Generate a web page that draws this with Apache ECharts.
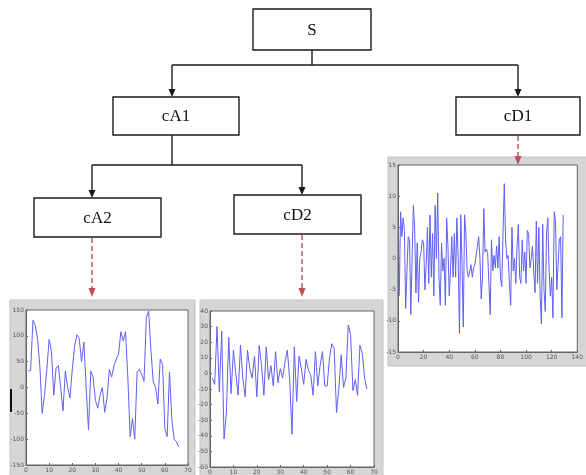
<!DOCTYPE html>
<html><head><meta charset="utf-8">
<script src="https://cdn.jsdelivr.net/npm/echarts@6/dist/echarts.min.js"></script>
<style>html,body{margin:0;padding:0;background:#fff}#c{width:586px;height:475px}</style>
</head><body><div id="c"></div>
<script>
// Approximation coefficients, level 2 (66 samples)
const cA2 = [32,33,130,120,95,40,-50,-15,35,93,70,-15,38,42,0,-45,32,0,-20,35,80,102,95,50,88,0,-82,32,20,-25,-40,-15,0,-48,-20,35,20,42,55,65,108,90,108,20,-95,-60,-100,30,35,25,12,136,148,70,11,0,-32,55,45,-80,-95,30,-60,-100,-105,-115];
// Detail coefficients, level 2 (67 samples)
const cD2 = [-3,-7,30,-12,27,-42,-25,23,-13,15,0,-14,18,-3,-15,15,3,-3,11,-15,18,5,-14,17,-4,5,-8,14,-6,3,-3,7,15,-4,-39,17,-18,11,3,-7,9,2,-1,-14,14,-8,5,14,-8,-8,10,19,16,-25,-10,12,-9,-3,31,25,-11,-4,-14,18,13,-3,-10];
// Detail coefficients, level 1 (129 samples)
const cD1 = [-6,7.5,3.5,6.5,4.5,-8,-2,3.5,3,-9,0,8.5,5,-5.5,2.5,-7,0,1,3,2.5,-5,-1,5,-4,7,-3,4,-6,8.5,0,10.5,-3,-7.5,2.5,-2,0,-7.5,6.5,2,-6,-2,3.5,-3,4,-3,6.5,0,-12,7,-1,-11,7,4,-2,-3,-3,-1,-3,-1.5,-1,0.5,2,3.5,0,-6.5,-3,8,1,1.5,1,-4,-9,3,-2,0.5,-1.5,2,-1.5,3.5,-3,-4.5,4,12,3,0,0.5,-4,-7.5,5,-2,0,-4,2,5.5,-3,-4,3,-2,1,-4,4.5,4,-1.5,0,2,-2,-5.5,6,-4,5,-6,-10.5,5.5,-5,-8.5,4,6.5,-2,-6,-3,-9.5,7.5,6,-5,-1,3,3.5,-9.5,7];
const nodeNames = ['S','cA1','cD1','cA2','cD2'];
const xRangeA2 = [0,70,10], yRangeA2 = [-150,150,50];
const xRangeD2 = [0,70,10], yRangeD2 = [-60,40,10];
const xRangeD1 = [0,140,20], yRangeD1 = [-15,15,5];

const chart = echarts.init(document.getElementById('c'), null, {renderer:'canvas'});
const toXY = arr => arr.map((v,i)=>[i+1,v]);

function mkGrid(l,t,w,h){return {left:l,top:t,width:w,height:h,show:true,backgroundColor:'#fff',borderColor:'#666',borderWidth:1};}
function mkAxis(idx,r,isX){
  return {type:'value',gridIndex:idx,min:r[0],max:r[1],interval:r[2],
    axisLine:{show:true,onZero:false,lineStyle:{color:'#666',width:1}},
    axisTick:{show:true,inside:true,length:2,lineStyle:{color:'#666'}},
    axisLabel:{fontSize:6,color:'#555',margin:2,fontFamily:'DejaVu Sans'},
    splitLine:{show:false}};
}
const lineStyle={color:'#5f5ff4',width:1};

const BLACK='#1a1a1a', RED='#c0504d';
const g=[];
// panels
function panel(x,y,w,h){g.push({type:'rect',z:-5,shape:{x:x,y:y,width:w,height:h},style:{fill:'#d6d6d6',stroke:'#c2c2c2',lineWidth:1}});}
panel(10,300,185,180);
panel(200,300,183,180);
panel(388,157,200,209);
// boxes
function box(x,y,w,h,label){
  g.push({type:'rect',shape:{x:x,y:y,width:w,height:h},style:{fill:'#fff',stroke:BLACK,lineWidth:1.4}});
  g.push({type:'text',style:{text:label,x:x+w/2,y:y+h/2+1,align:'center',verticalAlign:'middle',fontSize:17,fontFamily:'Liberation Serif',fill:'#111'}});
}
box(253,9,118,41,nodeNames[0]);
box(113,97,126,38,nodeNames[1]);
box(456,97,124,38,nodeNames[2]);
box(34,198,127,39,nodeNames[3]);
box(234,195,127,39,nodeNames[4]);
function seg(x1,y1,x2,y2,color,dash){g.push({type:'line',shape:{x1:x1,y1:y1,x2:x2,y2:y2},style:{stroke:color,lineWidth:1.4,lineDash:dash||null}});}
function head(x,y,color,w,h){g.push({type:'polygon',shape:{points:[[x-w/2,y-h],[x+w/2,y-h],[x,y]]},style:{fill:color}});}
// tree connectors
seg(312,50,312,65,BLACK);
seg(172,65,518,65,BLACK);
seg(172,65,172,91,BLACK); head(172,97,BLACK,7,8);
seg(518,65,518,91,BLACK); head(518,97,BLACK,7,8);
seg(172,135,172,165,BLACK);
seg(92,165,302,165,BLACK);
seg(92,165,92,192,BLACK); head(92,198,BLACK,7,8);
seg(302,165,302,189,BLACK); head(302,195,BLACK,7,8);
// red dashed arrows
seg(92,238,92,288,RED,[5,3]); head(92,297,RED,7,9);
seg(302,235,302,288,RED,[5,3]); head(302,297,RED,7,9);
seg(518,136,518,156,RED,[5,3]); head(518,165,RED,7,9);
// stray mark
g.push({type:'rect',shape:{x:10,y:389,width:2,height:23},style:{fill:'#111'}});

chart.setOption({
  animation:false,
  backgroundColor:'#fff',
  grid:[mkGrid(26,310,162,155), mkGrid(210,311,164,156), mkGrid(398,165,182,187)],
  xAxis:[mkAxis(0,xRangeA2,true),mkAxis(1,xRangeD2,true),mkAxis(2,xRangeD1,true)],
  yAxis:[mkAxis(0,yRangeA2,false),mkAxis(1,yRangeD2,false),mkAxis(2,yRangeD1,false)],
  series:[
    {type:'line',xAxisIndex:0,yAxisIndex:0,data:toXY(cA2),showSymbol:false,smooth:false,lineStyle:lineStyle},
    {type:'line',xAxisIndex:1,yAxisIndex:1,data:toXY(cD2),showSymbol:false,smooth:false,lineStyle:lineStyle},
    {type:'line',xAxisIndex:2,yAxisIndex:2,data:toXY(cD1),showSymbol:false,smooth:false,lineStyle:lineStyle}
  ],
  graphic:{elements:g}
});
</script></body></html>
